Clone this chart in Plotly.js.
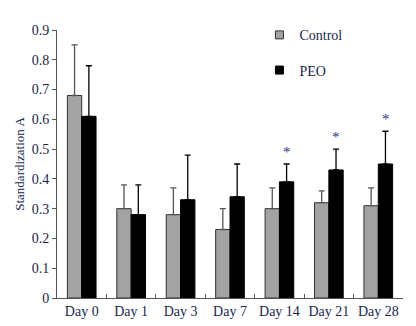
<!DOCTYPE html>
<html>
<head>
<meta charset="utf-8">
<script src="https://cdn.plot.ly/plotly-3.0.1.min.js"></script>
<style>html,body{margin:0;padding:0;background:#fff;}#chart{width:416px;height:326px;}</style>
</head>
<body>
<div id="chart"></div>
<script>
const days = ["Day 0", "Day 1", "Day 3", "Day 7", "Day 14", "Day 21", "Day 28"];
const controlMean = [0.68, 0.30, 0.28, 0.23, 0.30, 0.32, 0.31];
const controlErr  = [0.17, 0.08, 0.09, 0.07, 0.07, 0.04, 0.06];
const peoMean     = [0.61, 0.28, 0.33, 0.34, 0.39, 0.43, 0.45];
const peoErr      = [0.17, 0.10, 0.15, 0.11, 0.06, 0.07, 0.11];
const significant = [false, false, false, false, true, true, true];
const yTicks = [0, 0.1, 0.2, 0.3, 0.4, 0.5, 0.6, 0.7, 0.8, 0.9];
const yTickText = ["0", "0.1", "0.2", "0.3", "0.4", "0.5", "0.6", "0.7", "0.8", "0.9"];

const zeros = days.map(() => 0);
const font = {family: "Liberation Serif, Times New Roman, serif", size: 14, color: "#1a1f4d"};

const traces = [
  {
    type: "bar", name: "Control", x: days, y: controlMean, showlegend: false,
    marker: {color: "#a3a3a3", line: {color: "#333333", width: 1}},
    error_y: {type: "data", symmetric: false, array: controlErr, arrayminus: zeros, color: "#555555", thickness: 1.3, width: 3}
  },
  {
    type: "bar", name: "PEO", x: days, y: peoMean, showlegend: false,
    marker: {color: "#000000", line: {color: "#000000", width: 1}},
    error_y: {type: "data", symmetric: false, array: peoErr, arrayminus: zeros, color: "#000000", thickness: 1.3, width: 3}
  },
  {
    type: "scatter", name: "Control", x: [null], y: [null], mode: "markers", legendgroup: "c",
    marker: {symbol: "square", size: 8, color: "#a3a3a3", line: {color: "#333333", width: 1}}
  },
  {
    type: "scatter", name: "PEO", x: [null], y: [null], mode: "markers", legendgroup: "p",
    marker: {symbol: "square", size: 8, color: "#000000", line: {color: "#000000", width: 1}}
  },
  {
    type: "scatter", x: [0], y: [0], xaxis: "x2", showlegend: false, hoverinfo: "skip",
    mode: "markers", marker: {opacity: 0}
  }
];

const annotations = [];
days.forEach((d, i) => {
  if (significant[i]) {
    annotations.push({
      x: d, y: peoMean[i] + peoErr[i], xref: "x", yref: "y",
      xshift: 7.5, yshift: 12, text: "*", showarrow: false,
      font: {family: font.family, size: 15, color: "#2a3580"}
    });
  }
});

const boundaryTicks = days.map((d, i) => i + 0.5);

const layout = {
  width: 416, height: 326,
  margin: {l: 57, r: 13, t: 30, b: 28},
  paper_bgcolor: "#ffffff", plot_bgcolor: "#ffffff",
  font: font,
  barmode: "group", bargap: 0.42, bargroupgap: 0,
  showlegend: true,
  legend: {
    x: 0.585, y: 1.04, xanchor: "left", yanchor: "top",
    bgcolor: "rgba(0,0,0,0)", font: {family: font.family, size: 14, color: "#1a1f4d"},
    tracegroupgap: 14, itemwidth: 30
  },
  xaxis: {
    type: "category", showgrid: false, zeroline: false,
    showline: true, linecolor: "#555555", linewidth: 1,
    ticks: "", tickfont: font, fixedrange: true
  },
  xaxis2: {
    overlaying: "x", range: [-0.5, 6.5], showgrid: false, zeroline: false,
    showline: false, tickvals: boundaryTicks, ticktext: boundaryTicks.map(() => ""),
    ticks: "inside", ticklen: 4, tickcolor: "#555555", showticklabels: false
  },
  yaxis: {
    range: [0, 0.9], tickvals: yTicks, ticktext: yTickText,
    showgrid: false, zeroline: false, showline: true, linecolor: "#555555", linewidth: 1,
    ticks: "outside", ticklen: 4, tickcolor: "#555555", tickfont: font,
    title: {text: "Standardization A", font: {family: font.family, size: 13, color: "#1a1f4d"}, standoff: 4}
  },
  annotations: annotations
};

Plotly.newPlot("chart", traces, layout, {displayModeBar: false, staticPlot: true});
</script>
</body>
</html>
